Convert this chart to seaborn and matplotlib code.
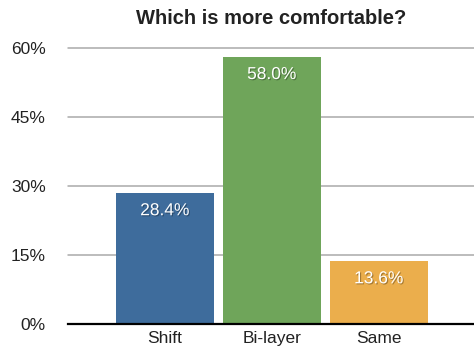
import matplotlib
matplotlib.use("Agg")
import matplotlib.pyplot as plt
import matplotlib.patheffects as pe
import seaborn as sns
import pandas as pd

categories = ["Shift", "Bi-layer", "Same"]
shares = [28.4, 58.0, 13.6]
bar_colors = ["#3E6C9C", "#6FA55A", "#EBAE4C"]
y_ticks = [0, 15, 30, 45, 60]
y_tick_labels = ["0%", "15%", "30%", "45%", "60%"]

sns.set_theme(style="white")
plt.rcParams["font.family"] = ["Liberation Sans", "DejaVu Sans"]

df = pd.DataFrame({"answer": categories, "share": shares})

fig = plt.figure(figsize=(4.74, 3.51), dpi=100)
ax = fig.add_axes([68 / 474, 27 / 351, 1 - 68 / 474, (324 - 48) / 351])

sns.barplot(data=df, x="answer", y="share", hue="answer", palette=bar_colors,
            order=categories, hue_order=categories, width=0.915, dodge=False,
            legend=False, saturation=1, ax=ax, zorder=3)
for p in ax.patches:
    p.set_edgecolor("none")

ax.set_ylim(0, 60)
ax.set_xlim(-0.905, 2.89)
ax.set_yticks(y_ticks)
ax.set_yticklabels(y_tick_labels)
ax.yaxis.grid(True, color="#AAAAAA", linewidth=1.1, zorder=0)
for gl in ax.get_ygridlines():
    gl.set_clip_on(False)
ax.set_axisbelow(True)

for s in ["top", "right", "left"]:
    ax.spines[s].set_visible(False)
ax.spines["bottom"].set_color("black")
ax.spines["bottom"].set_linewidth(1.6)
ax.spines["bottom"].set_zorder(5)

ax.tick_params(axis="both", length=0, labelsize=12.5, colors="#222222")
ax.tick_params(axis="y", pad=16)
ax.tick_params(axis="x", pad=5)
ax.set_xlabel("")
ax.set_ylabel("")

shadow = [pe.SimplePatchShadow(offset=(0.8, -0.8), shadow_rgbFace="black", alpha=0.3),
          pe.Normal()]
for i, v in enumerate(shares):
    ax.annotate(f"{v:.1f}%", xy=(i, v), xytext=(0, -12.5), textcoords="offset points",
                ha="center", va="center", color="white", fontsize=12.5,
                path_effects=shadow, zorder=6)

ax.set_title("Which is more comfortable?", fontsize=14.5, fontweight="bold",
             color="#222222", pad=17.5)

fig.savefig("out.png", dpi=100)
